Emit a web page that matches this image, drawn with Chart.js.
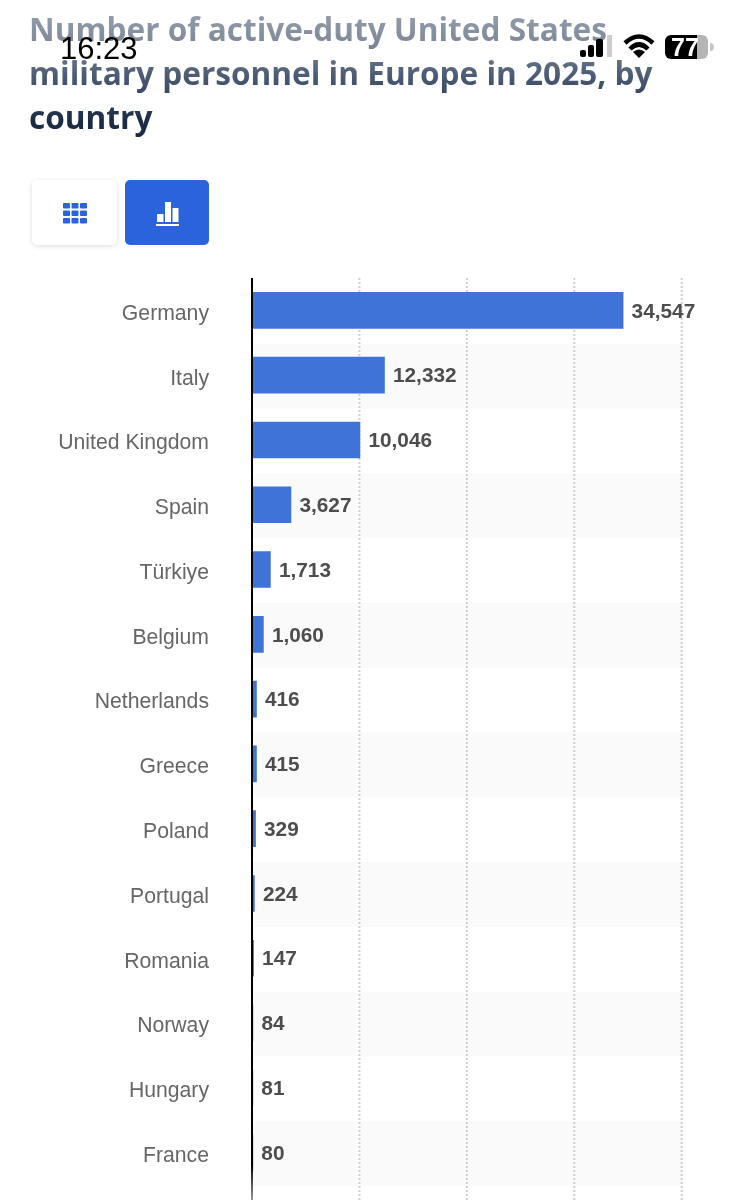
<!DOCTYPE html>
<html>
<head>
<meta charset="utf-8">
<title>US military personnel in Europe</title>
<script src="https://cdn.jsdelivr.net/npm/chart.js@4"></script>
<style>
html, body { margin: 0; padding: 0; background: #fff; }
#page { position: relative; width: 748px; height: 1200px; overflow: hidden; }
#chart { position: absolute; left: 0; top: 0; }
#title {
    position: absolute; left: 29px; top: 7px; width: 670px; margin: 0;
    font: 700 31.6px/44px "Open Sans", sans-serif;
    background: linear-gradient(to bottom, #9aa2af 0px, #7f8998 35px, #4a5a72 70px, #1c2b45 115px);
    -webkit-background-clip: text; background-clip: text; color: transparent;
}
#clock { position: absolute; left: 60px; top: 32px; font: 400 31px/34px "Liberation Sans", sans-serif; color: #000; }
.btn { position: absolute; top: 180px; width: 85px; height: 65px; border-radius: 5px; }
#btn-table { left: 32px; background: #fff; box-shadow: 0 1px 5px rgba(0,0,0,.14); }
#btn-chart { left: 125px; width: 84px; background: #2b63dc; }
.btn svg { position: absolute; left: 0; top: 0; }
#status { position: absolute; left: 570px; top: 25px; }
</style>
</head>
<body>
<div id="page">
    <canvas id="chart" width="748" height="1200"></canvas>
    <h1 id="title">Number of active-duty United States military personnel in Europe in 2025, by country</h1>
    <div id="clock">16:23</div>
    <svg id="status" width="150" height="45">
        <rect x="10" y="25" width="6" height="7" rx="2" fill="#000"/>
        <rect x="18" y="20" width="6" height="12" rx="2" fill="#000"/>
        <rect x="26" y="14" width="7" height="18" rx="2" fill="#000"/>
        <rect x="37" y="10" width="5" height="22" rx="1" fill="#ccc"/>
        <path d="M55 18 Q69 5 83 18 M60 24 Q69 15 78 24" fill="none" stroke="#000" stroke-width="4.5"/>
        <path d="M63 27 Q69 22 75 27 L69 33 Z" fill="#000"/>
        <path d="M127 10 H101 a6 6 0 0 0 -6 6 v12 a6 6 0 0 0 6 6 H127 Z" fill="#000"/>
        <path d="M127 10 h5 a6 6 0 0 1 6 6 v12 a6 6 0 0 1 -6 6 h-5 Z" fill="#b5b5b5"/>
        <path d="M140 18 a4 4 0 0 1 0 8 Z" fill="#c8c8c8"/>
        <text x="115" y="31" text-anchor="middle" font-family="Liberation Sans" font-weight="700" font-size="25" fill="#fff">77</text>
    </svg>
    <div class="btn" id="btn-table">
        <svg width="85" height="65" fill="#2b63dc">
            <rect x="31" y="23" width="7" height="5.5" rx="1"/><rect x="39.5" y="23" width="7" height="5.5" rx="1"/><rect x="48" y="23" width="7" height="5.5" rx="1"/>
            <rect x="31" y="30.5" width="7" height="5.5" rx="1"/><rect x="39.5" y="30.5" width="7" height="5.5" rx="1"/><rect x="48" y="30.5" width="7" height="5.5" rx="1"/>
            <rect x="31" y="38" width="7" height="5.5" rx="1"/><rect x="39.5" y="38" width="7" height="5.5" rx="1"/><rect x="48" y="38" width="7" height="5.5" rx="1"/>
        </svg>
    </div>
    <div class="btn" id="btn-chart">
        <svg width="84" height="65" fill="#fff">
            <rect x="32" y="34" width="6.5" height="8"/><rect x="40" y="22" width="6" height="20"/><rect x="47.5" y="28" width="6" height="14"/>
            <rect x="31" y="44" width="23" height="2"/>
        </svg>
    </div>
</div>
<script>
var countries = ["Germany", "Italy", "United Kingdom", "Spain", "Türkiye", "Belgium", "Netherlands", "Greece", "Poland", "Portugal", "Romania", "Norway", "Hungary", "France"];
var personnel = [34547, 12332, 10046, 3627, 1713, 1060, 416, 415, 329, 224, 147, 84, 81, 80];
var xTicks = [0, 10000, 20000, 30000, 40000];

// stripes, dotted grid and axis run past the last row, so they are drawn by hand
var backdrop = {
    id: 'backdrop',
    beforeDatasetsDraw: function(chart) {
        var c = chart.ctx, a = chart.chartArea, y = chart.scales.y, x = chart.scales.x;
        var rowH = y.getPixelForValue(1) - y.getPixelForValue(0);
        c.save();
        c.fillStyle = '#fafafa';
        countries.forEach(function(name, i) {
            if (i % 2 == 1) c.fillRect(a.left, y.getPixelForValue(i) - rowH / 2 + 1, a.right - a.left, rowH);
        });
        c.strokeStyle = '#cfcfcf';
        c.lineWidth = 2;
        c.setLineDash([2, 2]);
        xTicks.forEach(function(t) {
            if (t == 0) return;
            var px = x.getPixelForValue(t);
            c.beginPath();
            c.moveTo(px, a.top);
            c.lineTo(px, chart.height);
            c.stroke();
        });
        c.restore();
    },
    afterDatasetsDraw: function(chart) {
        var c = chart.ctx, a = chart.chartArea;
        var fade = c.createLinearGradient(0, 1165, 0, 1200);
        fade.addColorStop(0, '#000');
        fade.addColorStop(1, '#999');
        c.save();
        c.strokeStyle = fade;
        c.lineWidth = 2;
        c.beginPath();
        c.moveTo(a.left, a.top);
        c.lineTo(a.left, chart.height);
        c.stroke();
        c.restore();
    }
};

var valueLabels = {
    id: 'valueLabels',
    afterDatasetsDraw: function(chart) {
        var c = chart.ctx;
        c.save();
        c.font = '700 20.8px "Liberation Sans"';
        c.fillStyle = '#4d4d4d';
        c.textBaseline = 'middle';
        chart.getDatasetMeta(0).data.forEach(function(bar, i) {
            c.fillText(personnel[i].toLocaleString('en-US'), bar.x + 8.5, bar.y + 1.5);
        });
        c.restore();
    }
};

Chart.defaults.devicePixelRatio = 1;

new Chart(document.getElementById('chart'), {
    type: 'bar',
    data: {
        labels: countries,
        datasets: [{
            data: personnel,
            backgroundColor: '#4073d6',
            barThickness: 36
        }]
    },
    plugins: [backdrop, valueLabels],
    options: {
        indexAxis: 'y',
        responsive: false,
        animation: false,
        layout: { padding: { top: 278, right: 66.3, bottom: 15 } },
        plugins: { legend: { display: false }, tooltip: { enabled: false } },
        scales: {
            x: {
                display: false,
                min: 0,
                max: 40000,
                ticks: { stepSize: 10000 }
            },
            y: {
                afterFit: function(scale) {
                    scale.width = 252;
                    // tick padding otherwise eats into the rows at the bottom
                    scale.paddingTop = 0;
                    scale.paddingBottom = 0;
                },
                ticks: {
                    color: '#666',
                    font: { family: 'Liberation Sans', size: 21.2 },
                    padding: 43,
                    labelOffset: 3.5
                },
                grid: { display: false, drawTicks: false },
                border: { display: false }
            }
        }
    }
});
</script>
</body>
</html>
